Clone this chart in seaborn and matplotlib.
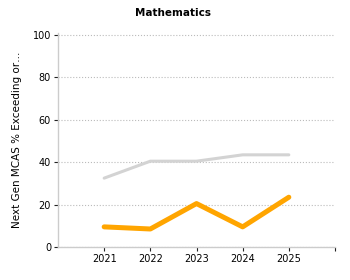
import pandas as pd
import matplotlib
matplotlib.use('Agg')
import matplotlib.pyplot as plt
import seaborn as sns

years = [2021, 2022, 2023, 2024, 2025]
state_pct = [32.5, 40.5, 40.5, 43.5, 43.5]
district_pct = [9.5, 8.5, 20.5, 9.5, 23.5]
y_ticks = [0, 20, 40, 60, 80, 100]

df = pd.DataFrame({
    'year': years * 2,
    'pct': state_pct + district_pct,
    'group': ['State'] * 5 + ['District'] * 5,
})

sns.set_style('white')
plt.rcParams['font.family'] = ['DejaVu Sans']
plt.rcParams['text.color'] = 'black'

fig = plt.figure(figsize=(3.5, 2.8), dpi=100)
ax = fig.add_axes([58 / 350, 33 / 280, 277 / 350, 214 / 280])
ax.set_ylim(0, 101)

sns.lineplot(data=df, x='year', y='pct', hue='group',
             palette={'State': '#d3d3d3', 'District': '#ffa500'},
             size='group', sizes={'State': 2.2, 'District': 3.6},
             legend=False, ax=ax)

ax.set_xlim(2020, 2026)
ax.set_xticks(years + [2026])
ax.set_xticklabels([str(y) for y in years] + [''])
ax.set_yticks(y_ticks)
ax.tick_params(axis='both', labelsize=7, length=3, width=0.8, color='#222222',
               labelcolor='black', pad=2, bottom=True, left=True)
ax.grid(axis='y', linestyle=':', color='#bbbbbb', linewidth=0.8)
for side in ['top', 'right']:
    ax.spines[side].set_visible(False)
for side in ['left', 'bottom']:
    ax.spines[side].set_color('#cccccc')
    ax.spines[side].set_linewidth(1)

ax.set_xlabel('')
ax.set_ylabel('Next Gen MCAS % Exceeding or\u2026', fontsize=7.5, labelpad=8,
              color='black')
fig.text(173 / 350, 1 - 13 / 280, 'Mathematics', ha='center', va='center',
         fontsize=7.5, fontweight='bold', color='black')

fig.savefig('out.png', dpi=100)
